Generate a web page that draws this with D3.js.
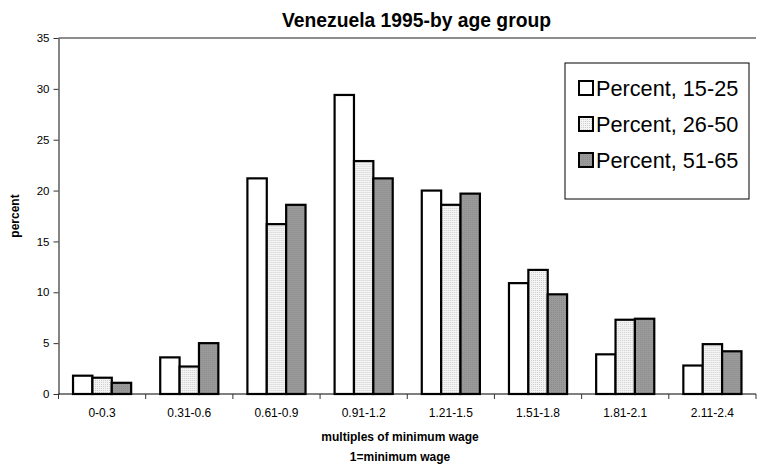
<!DOCTYPE html>
<html>
<head>
<meta charset="utf-8">
<script src="https://cdn.jsdelivr.net/npm/d3@7"></script>
<style>
  html, body { margin: 0; padding: 0; background: #fff; }
  svg { display: block; font-family: "Liberation Sans", Arial, sans-serif; }
</style>
</head>
<body>
<svg id="chart" width="764" height="467"></svg>
<script>
// Wage bands (multiples of the minimum wage)
const categories = ["0-0.3", "0.31-0.6", "0.61-0.9", "0.91-1.2", "1.21-1.5", "1.51-1.8", "1.81-2.1", "2.11-2.4"];

// Share of workers (%) in each band, by age group
const age15to25 = [1.8, 3.6, 21.2, 29.4, 20.0, 10.9, 3.9, 2.8];
const age26to50 = [1.6, 2.7, 16.7, 22.9, 18.6, 12.2, 7.3, 4.9];
const age51to65 = [1.1, 5.0, 18.6, 21.2, 19.7, 9.8, 7.4, 4.2];

const seriesNames = ["Percent, 15-25", "Percent, 26-50", "Percent, 51-65"];
const yTicks = [0, 5, 10, 15, 20, 25, 30, 35];

const series = [age15to25, age26to50, age51to65];

const svg = d3.select("#chart");
const W = 764, H = 467;

const plot = { left: 58.5, top: 38, right: 756, bottom: 394 };

const defs = svg.append("defs");
// fine light dotted fill
const p1 = defs.append("pattern").attr("id", "dots-light")
  .attr("patternUnits", "userSpaceOnUse").attr("width", 2).attr("height", 2);
p1.append("rect").attr("width", 2).attr("height", 2).attr("fill", "#f4f4f4");
p1.append("rect").attr("width", 1).attr("height", 1).attr("fill", "#cfcfcf");
// fine gray dotted fill
const p2 = defs.append("pattern").attr("id", "dots-gray")
  .attr("patternUnits", "userSpaceOnUse").attr("width", 2).attr("height", 2);
p2.append("rect").attr("width", 2).attr("height", 2).attr("fill", "#9a9a9a");
p2.append("rect").attr("width", 1).attr("height", 1).attr("fill", "#8c8c8c");

const fills = ["#ffffff", "url(#dots-light)", "url(#dots-gray)"];

svg.append("rect").attr("width", W).attr("height", H).attr("fill", "#fff");

// group band: 3 bars with a 150% gap between groups
const x0 = d3.scaleBand().domain(categories).range([plot.left, plot.right])
  .paddingInner(1 / 3).paddingOuter(1 / 6);
const xCat = d3.scaleBand().domain(categories).range([plot.left, plot.right]).padding(0);
const x1 = d3.scaleBand().domain(d3.range(series.length)).range([0, x0.bandwidth()]);
const y = d3.scaleLinear().domain([0, 35]).range([plot.bottom, plot.top]);

// Title
svg.append("text")
  .attr("x", 416.5).attr("y", 27)
  .attr("text-anchor", "middle")
  .attr("font-size", 19.3).attr("font-weight", "bold")
  .text("Venezuela 1995-by age group");

// Plot area top border
svg.append("line")
  .attr("x1", plot.left).attr("x2", plot.right)
  .attr("y1", plot.top).attr("y2", plot.top)
  .attr("stroke", "#8c8c8c").attr("stroke-width", 2);

// Bars
const groups = svg.append("g").selectAll("g")
  .data(categories).join("g")
  .attr("transform", d => `translate(${x0(d)},0)`);

groups.selectAll("rect")
  .data((c, i) => series.map((s, k) => ({ k, v: s[i] })))
  .join("rect")
  .attr("x", d => x1(d.k))
  .attr("y", d => y(d.v))
  .attr("width", x1.bandwidth())
  .attr("height", d => y(0) - y(d.v))
  .attr("fill", d => fills[d.k])
  .attr("stroke", "#000").attr("stroke-width", 2.2);

// Y axis
const yAxis = d3.axisLeft(y).tickValues(yTicks).tickSize(5).tickSizeOuter(0).tickPadding(4);
const gy = svg.append("g").attr("transform", `translate(${plot.left},0)`).call(yAxis);
gy.select(".domain").attr("stroke", "#333").attr("stroke-width", 1.2);
gy.selectAll(".tick line").attr("stroke", "#333");
gy.selectAll("text").attr("font-size", 11.5).attr("fill", "#000")
  .attr("font-family", "Liberation Sans, Arial, sans-serif");

// X axis: line, boundary ticks, category labels
svg.append("line")
  .attr("x1", plot.left).attr("x2", plot.right)
  .attr("y1", plot.bottom).attr("y2", plot.bottom)
  .attr("stroke", "#000").attr("stroke-width", 1.2);

const boundaries = categories.map(c => xCat(c)).concat([xCat(categories[categories.length - 1]) + xCat.bandwidth()]);
svg.append("g").selectAll("line").data(boundaries).join("line")
  .attr("x1", d => d).attr("x2", d => d)
  .attr("y1", plot.bottom).attr("y2", plot.bottom + 5)
  .attr("stroke", "#333");

svg.append("g").selectAll("text").data(categories).join("text")
  .attr("x", d => xCat(d) + xCat.bandwidth() / 2)
  .attr("y", plot.bottom + 23)
  .attr("text-anchor", "middle").attr("font-size", 12)
  .text(d => d);

// Axis titles
const xMid = 400;
svg.append("text").attr("x", xMid).attr("y", 441)
  .attr("text-anchor", "middle").attr("font-size", 12).attr("font-weight", "bold")
  .text("multiples of minimum wage");
svg.append("text").attr("x", xMid).attr("y", 461)
  .attr("text-anchor", "middle").attr("font-size", 12).attr("font-weight", "bold")
  .text("1=minimum wage");

svg.append("text")
  .attr("transform", `translate(19,${(plot.top + plot.bottom) / 2}) rotate(-90)`)
  .attr("text-anchor", "middle").attr("font-size", 12).attr("font-weight", "bold")
  .text("percent");

// Legend
const lg = svg.append("g").attr("transform", "translate(565,63)");
lg.append("rect").attr("width", 184).attr("height", 136)
  .attr("fill", "#fff").attr("stroke", "#000").attr("stroke-width", 1);
seriesNames.forEach((name, k) => {
  const cy = 25 + k * 36;
  lg.append("rect").attr("x", 14).attr("y", cy - 7).attr("width", 14).attr("height", 14)
    .attr("fill", fills[k]).attr("stroke", "#000").attr("stroke-width", 2);
  lg.append("text").attr("x", 31).attr("y", cy + 7.5)
    .attr("font-size", 21.7).text(name);
});
</script>
</body>
</html>
